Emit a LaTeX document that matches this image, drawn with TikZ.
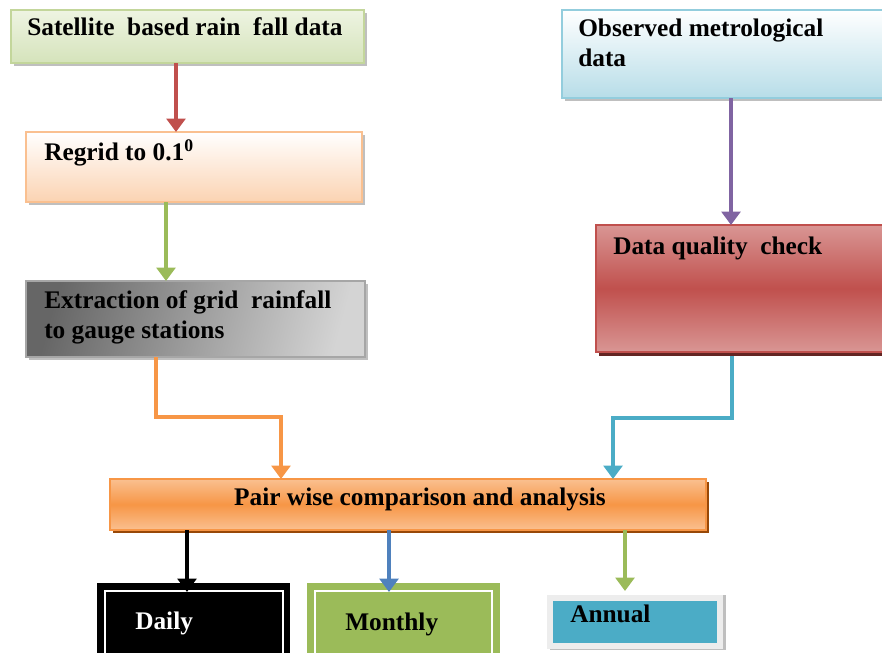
\documentclass[tikz,border=0pt]{standalone}
\usepackage{fontspec}
\setmainfont{Liberation Serif}
\usetikzlibrary{arrows.meta,calc}
\definecolor{satT}{HTML}{EEF4E2}
\definecolor{satB}{HTML}{D5E3BB}
\definecolor{satD}{HTML}{C3D69B}
\definecolor{regB}{HTML}{FBD3B2}
\definecolor{regD}{HTML}{FAC090}
\definecolor{obsB}{HTML}{B7DDE8}
\definecolor{obsD}{HTML}{93CDDD}
\definecolor{dqL}{HTML}{D99694}
\definecolor{dqM}{HTML}{C0504D}
\definecolor{dqS}{HTML}{632523}
\definecolor{prL}{HTML}{FAC090}
\definecolor{prM}{HTML}{F79646}
\definecolor{prS}{HTML}{984807}
\definecolor{cRed}{HTML}{C0504D}
\definecolor{cGreen}{HTML}{9BBB59}
\definecolor{cOrange}{HTML}{F79646}
\definecolor{cPurple}{HTML}{8064A2}
\definecolor{cTeal}{HTML}{4BACC6}
\definecolor{cBlue}{HTML}{4F81BD}
\definecolor{shad}{HTML}{BFBFBF}
\tikzset{
  box/.style={rectangle, inner sep=0pt, outer sep=0pt, line width=1pt},
  lbl/.style={inner sep=0pt, anchor=base west, font=\fontsize{19}{22.5}\selectfont\bfseries, align=left},
  arr/.style={line width=3pt, -{Triangle[width=14pt,length=10pt]}},
}
\begin{document}
\begin{tikzpicture}[x=0.75pt,y=-0.75pt]
\useasboundingbox (0,0) rectangle (882,653);
% shadows
\fill[shad] (14,13) rectangle (367,66);
\fill[shad] (29,135) rectangle (365,205);
\fill[shad] (29,284) rectangle (368,360);
\fill[shad] (565,13) rectangle (885,101);
\fill[dqS] (599,228) rectangle (885,356);
\fill[prS] (113,482) rectangle (709,533);
\fill[shad] (550,595) rectangle (726,650);
% boxes
\node[box, draw=satD, top color=satT, bottom color=satB, minimum width=353*0.75pt, minimum height=53*0.75pt] (sat) at (187.5,36.5) {};
\node[box, draw=regD, top color=white, bottom color=regB, minimum width=336*0.75pt, minimum height=70*0.75pt] (reg) at (194,167) {};
\node[box, draw=gray!70, left color=black!60, right color=black!17, shading angle=75, minimum width=339*0.75pt, minimum height=76*0.75pt] (ext) at (195.5,319) {};
\node[box, draw=obsD, top color=white, bottom color=obsB, minimum width=322*0.75pt, minimum height=88*0.75pt] (obs) at (723,54) {};
\node[box, draw=dqM, top color=dqL, bottom color=dqL, middle color=dqM, minimum width=290*0.75pt, minimum height=127*0.75pt] (dq) at (741,288.5) {};
\node[box, draw=prM, top color=prL, bottom color=prL, middle color=prM, minimum width=596*0.75pt, minimum height=51*0.75pt] (pair) at (408,504.5) {};
% bottom boxes
\node[box, fill=black, minimum width=193*0.75pt, minimum height=80*0.75pt] (daily) at (193.5,623) {};
\draw[white, line width=1.6pt] (105,591) rectangle (283,660);
\node[box, fill=cGreen, minimum width=193*0.75pt, minimum height=80*0.75pt] (monthly) at (403.5,623) {};
\draw[white, line width=1.6pt] (315,591) rectangle (492,660);
\node[box, fill=cTeal, draw=black!7, line width=4.5pt, minimum width=170*0.75pt, minimum height=48*0.75pt] (annual) at (635,621.5) {};
% labels
\node[lbl] (tsat) at (27,36) {Satellite\ \ based rain\ \ fall data};
\node[lbl] (treg) at (44,160) {Regrid to 0.1\textsuperscript{0}};
\node[lbl] (text) at (44,338) {Extraction of grid\ \ rainfall\\to gauge stations};
\node[lbl] (tobs) at (578,66) {Observed metrological\\data};
\node[lbl] (tdq) at (613,254) {Data quality\ \ check};
\node[lbl, anchor=base] (tpair) at (420,505) {Pair wise comparison and analysis};
\node[lbl, text=white] (tdaily) at (135,629) {Daily};
\node[lbl] (tmonthly) at (345,630) {Monthly};
\node[lbl] (tannual) at (570,622) {Annual};
% connectors
\draw[arr, cRed] (sat.south -| 176,0) -- (reg.north -| 176,0);
\draw[arr, cGreen] (reg.south -| 166,0) -- (ext.north -| 166,0);
\draw[arr, cOrange] (ext.south -| 156,0) -- ++(0,60) -| (pair.north -| 281,0);
\draw[arr, cPurple] (obs.south -| 731,0) -- (dq.north -| 731,0);
\draw[arr, cTeal] ([yshift=-3pt]dq.south -| 732,0) -- (732,418) -| (pair.north -| 613,0);
\draw[arr, black] (pair.south -| 187,0) -- ++(0,62);
\draw[arr, cBlue] (pair.south -| 389,0) -- ++(0,62);
\draw[arr, cGreen] (pair.south -| 625,0) -- ++(0,61);
\end{tikzpicture}
\end{document}
